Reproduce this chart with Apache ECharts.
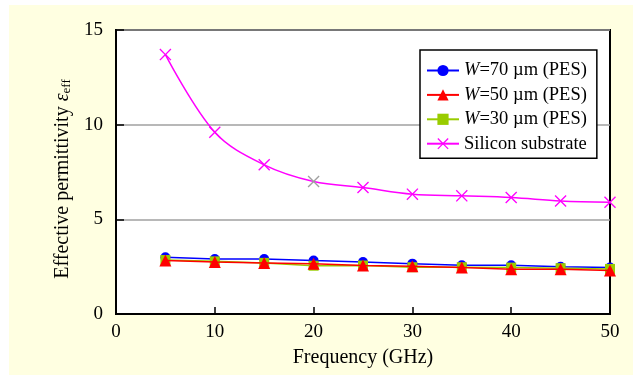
<!DOCTYPE html>
<html>
<head>
<meta charset="utf-8">
<script src="https://cdn.jsdelivr.net/npm/echarts@6/dist/echarts.min.js"></script>
<style>
  html, body { margin: 0; padding: 0; background: #ffffff; }
  #chart { width: 643px; height: 378px; }
</style>
</head>
<body>
<div id="chart"></div>
<script>
// Frequency points (GHz)
const frequency = [5, 10, 15, 20, 25, 30, 35, 40, 45, 50];

// Effective permittivity for each line width on PES, and for silicon substrate
const w70 = [3.0, 2.9, 2.9, 2.82, 2.75, 2.66, 2.57, 2.57, 2.5, 2.46];
const w50 = [2.83, 2.75, 2.7, 2.65, 2.56, 2.52, 2.46, 2.37, 2.37, 2.3];
const w30 = [2.85, 2.78, 2.7, 2.55, 2.56, 2.47, 2.47, 2.45, 2.42, 2.38];
const silicon = [13.7, 9.6, 7.88, 7.0, 6.68, 6.33, 6.24, 6.15, 5.97, 5.9];

const seriesNames = ['W70', 'W50', 'W30', 'Si'];
const legendText = {
  W70: '{i|W}=70 µm (PES)',
  W50: '{i|W}=50 µm (PES)',
  W30: '{i|W}=30 µm (PES)',
  Si: 'Silicon substrate'
};

const pairs = arr => arr.map((v, i) => [frequency[i], v]);
const serif = '"Liberation Serif", "Times New Roman", serif';

// filled "x" mark used for the silicon substrate points
const crossPath = 'path://M0,0.8 L0.8,0 L5,4.2 L9.2,0 L10,0.8 L5.8,5 L10,9.2 L9.2,10 L5,5.8 L0.8,10 L0,9.2 L4.2,5 Z';

const siliconData = pairs(silicon).map((p, i) => {
  const d = { value: p };
  if (frequency[i] === 20) d.itemStyle = { color: '#a0a0a0' };
  return d;
});

const chart = echarts.init(document.getElementById('chart'), null, { renderer: 'canvas' });

chart.setOption({
  animation: false,
  backgroundColor: '#ffffff',
  graphic: [{
    type: 'rect',
    z: -10,
    shape: { x: 9, y: 5, width: 624, height: 370 },
    style: { fill: '#ffffe1' }
  }],
  grid: {
    left: 116, right: 33, top: 30, bottom: 64,
    show: true,
    backgroundColor: '#ffffff',
    borderColor: '#000000',
    borderWidth: 2
  },
  legend: {
    orient: 'vertical',
    left: 420, top: 50,
    data: seriesNames,
    backgroundColor: '#ffffff',
    borderColor: '#000000',
    borderWidth: 1.5,
    borderRadius: 0,
    padding: [11, 10, 5, 6],
    itemWidth: 32,
    itemHeight: 14,
    itemGap: 5.4,
    formatter: name => legendText[name],
    textStyle: {
      fontFamily: serif, fontSize: 18.5, color: '#000',
      rich: { i: { fontFamily: serif, fontSize: 18.5, fontStyle: 'italic', color: '#000' } }
    }
  },
  xAxis: {
    type: 'value',
    min: 0, max: 50, interval: 10,
    name: 'Frequency (GHz)',
    nameLocation: 'middle',
    nameGap: 34,
    nameTextStyle: { fontFamily: serif, fontSize: 20, color: '#000' },
    axisLine: { show: true, lineStyle: { color: '#000', width: 2 } },
    axisTick: { show: true, inside: true, length: 7, lineStyle: { color: '#000', width: 1.5 } },
    axisLabel: { fontFamily: serif, fontSize: 19, color: '#000', margin: 9 },
    splitLine: { show: false }
  },
  yAxis: {
    type: 'value',
    min: 0, max: 15, interval: 5,
    name: 'Effective permittivity {e|ε}{s|eff}',
    nameLocation: 'middle',
    nameGap: 41,
    nameTextStyle: {
      fontFamily: serif, fontSize: 20, color: '#000',
      padding: [0, 14, 0, 0],
      rich: {
        e: { fontFamily: serif, fontSize: 20, fontStyle: 'italic', color: '#000' },
        s: { fontFamily: serif, fontSize: 13, color: '#000', padding: [8, 0, 0, 0] }
      }
    },
    axisLine: { show: true, lineStyle: { color: '#000', width: 2 } },
    axisTick: { show: true, inside: true, length: 8, lineStyle: { color: '#000', width: 1.5 } },
    axisLabel: { fontFamily: serif, fontSize: 19, color: '#000', margin: 13 },
    splitLine: { show: true, lineStyle: { color: '#a0a0a0', width: 1.5 } }
  },
  series: [
    {
      name: 'W70', type: 'line', data: pairs(w70), z: 2,
      symbol: 'circle', symbolSize: 10,
      lineStyle: { color: '#0000ff', width: 1.5 },
      itemStyle: { color: '#0000ff' }
    },
    {
      name: 'W30', type: 'line', data: pairs(w30), z: 3,
      symbol: 'rect', symbolSize: 10,
      lineStyle: { color: '#99cc00', width: 1.5 },
      itemStyle: { color: '#99cc00' }
    },
    {
      name: 'W50', type: 'line', data: pairs(w50), z: 4,
      symbol: 'triangle', symbolSize: 12,
      lineStyle: { color: '#ff0000', width: 1.5 },
      itemStyle: { color: '#ff0000' }
    },
    {
      name: 'Si', type: 'line', data: siliconData, z: 5,
      smooth: 0.35,
      symbol: crossPath, symbolSize: 12,
      lineStyle: { color: '#ff00ff', width: 1.5 },
      itemStyle: { color: '#ff00ff' }
    }
  ]
});
</script>
</body>
</html>
